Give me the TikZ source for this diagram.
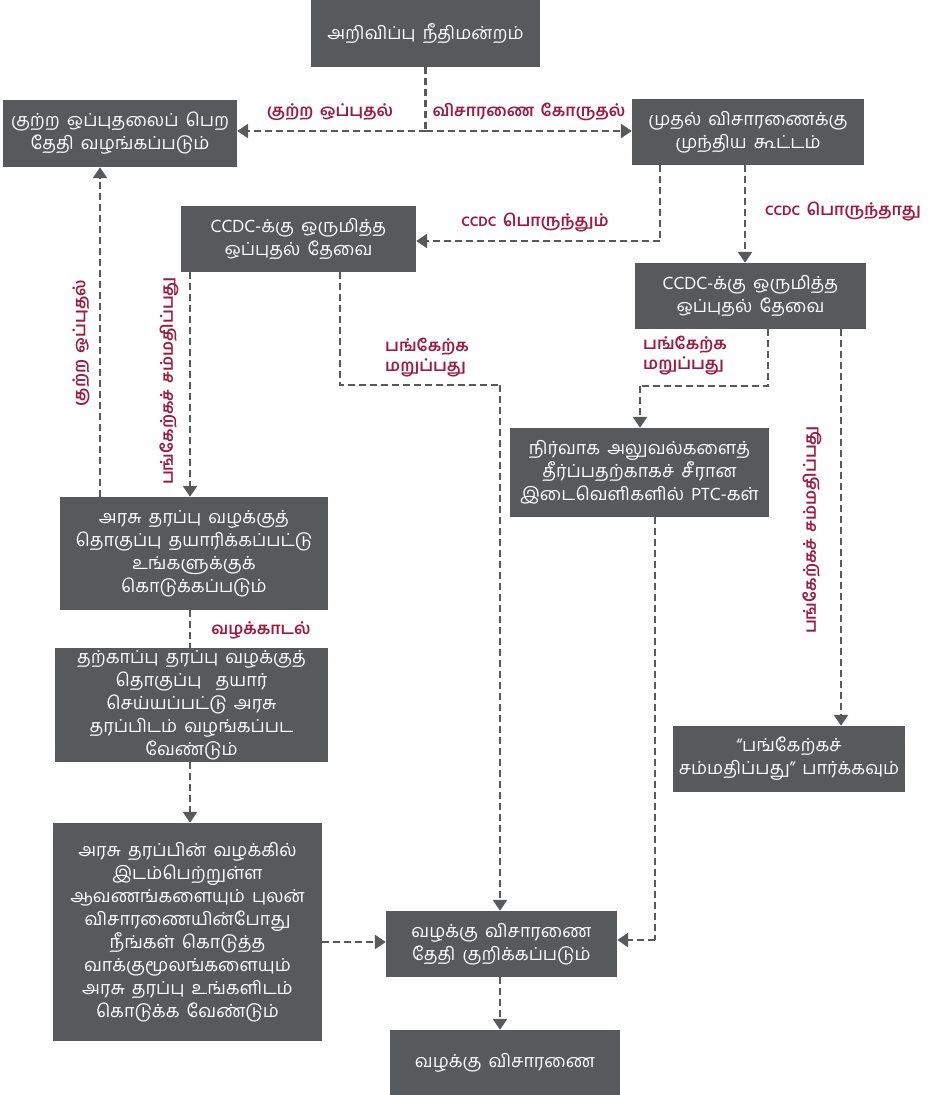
\documentclass[tikz,border=0pt]{standalone}
\usepackage{fontspec}
\usetikzlibrary{arrows.meta,calc}
\newfontfamily\tam[Script=Tamil,WordSpace=1.8]{Hind Madurai}
\newfontfamily\tamlab[Script=Tamil,AutoFakeSlant=0.2,WordSpace=1.6]{Hind Madurai}
\definecolor{boxgray}{HTML}{58595B}
\definecolor{labred}{HTML}{9E1B40}
\tikzset{
  box/.style={rectangle, fill=boxgray, text=white, align=center, inner sep=2pt,
    font=\tam\fontsize{18}{23}\selectfont},
  conn/.style={draw=boxgray, line width=2.3pt, dash pattern=on 7pt off 4pt},
  arr/.style={conn, -{Triangle[width=14pt,length=11pt]}},
  lab/.style={text=labred, font=\tamlab\bfseries\itshape\fontsize{16.5}{20}\selectfont, align=left, inner sep=0pt}
}
\newcommand{\ccdc}{{\fontsize{14}{16}\selectfont CCDC}}
\begin{document}
\begin{tikzpicture}[x=1pt,y=-1pt]
\useasboundingbox (0,0) rectangle (940,1095);
\node[box, minimum width=229pt, minimum height=67pt] (n1) at (425.5,33.5) {அறிவிப்பு நீதிமன்றம்};
\node[box, minimum width=234pt, minimum height=67pt] (n2) at (120,133.5) {குற்ற ஒப்புதலைப் பெற\\தேதி வழங்கப்படும்};
\node[box, minimum width=232pt, minimum height=66pt] (n3) at (748,132) {முதல் விசாரணைக்கு\\முந்திய கூட்டம்};
\node[box, minimum width=235pt, minimum height=66pt] (n4) at (298.5,239) {CCDC-க்கு ஒருமித்த\\ஒப்புதல் தேவை};
\node[box, minimum width=231pt, minimum height=66pt] (n5) at (750.5,296) {CCDC-க்கு ஒருமித்த\\ஒப்புதல் தேவை};
\node[box, minimum width=259pt, minimum height=89pt] (n6) at (639.5,472.5) {நிர்வாக அலுவல்களைத்\\தீர்ப்பதற்காகச் சீரான\\இடைவெளிகளில் PTC-கள்};
\node[box, minimum width=268pt, minimum height=113pt] (n7) at (194,553.5) {அரசு தரப்பு வழக்குத்\\தொகுப்பு தயாரிக்கப்பட்டு\\உங்களுக்குக்\\கொடுக்கப்படும்};
\node[box, minimum width=273pt, minimum height=114pt] (n8) at (191.5,705) {தற்காப்பு தரப்பு வழக்குத்\\தொகுப்பு~~தயார்\\செய்யப்பட்டு அரசு\\தரப்பிடம் வழங்கப்பட\\வேண்டும்};
\node[box, minimum width=232pt, minimum height=66pt] (n9) at (789,759) {“பங்கேற்கச்\\சம்மதிப்பது” பார்க்கவும்};
\node[box, minimum width=269pt, minimum height=218pt] (n10) at (187.5,932) {அரசு தரப்பின் வழக்கில்\\இடம்பெற்றுள்ள\\ஆவணங்களையும் புலன்\\விசாரணையின்போது\\நீங்கள் கொடுத்த\\வாக்குமூலங்களையும்\\அரசு தரப்பு உங்களிடம்\\கொடுக்க வேண்டும்};
\node[box, minimum width=231pt, minimum height=66pt] (n11) at (501.5,944) {வழக்கு விசாரணை\\தேதி குறிக்கப்படும்};
\node[box, minimum width=230pt, minimum height=65pt] (n12) at (505,1062.5) {வழக்கு விசாரணை};

% top split
\coordinate (j1) at (425.5,131);
\draw[conn] (n1.south) -- (j1);
\draw[arr] (j1) -- (j1 -| n2.east);
\draw[arr] (j1) -- (j1 -| n3.west);
\node[lab] (l1) at (330,112) {குற்ற ஒப்புதல்};
\node[lab] (l2) at (529,112) {விசாரணை கோருதல்};

% n3 to n4
\coordinate (j2) at (660,241);
\draw[conn] (660,0 |- n3.south) -- (j2);
\draw[arr] (j2) -- (j2 -| n4.east);
\node[lab] (l3) at (535,223) {\ccdc{} பொருந்தும்};

% n3 to n5
\draw[arr] (745,0 |- n3.south) -- (745,0 |- n5.north);
\node[lab] (l4) at (843,212) {\ccdc{} பொருந்தாது};

% n4 to n11
\coordinate (j3) at (340,385);
\coordinate (j4) at (500,385);
\draw[conn] (340,0 |- n4.south) -- (j3) -- (j4);
\draw[arr] (j4) -- (j4 |- n11.north);
\node[lab, align=left] (l5) at (427,358) {பங்கேற்க\\மறுப்பது};

% n5 to n6
\coordinate (j5) at (768,386);
\coordinate (j6) at (640,386);
\draw[conn] (768,0 |- n5.south) -- (j5) -- (j6);
\draw[arr] (j6) -- (j6 |- n6.north);
\node[lab, align=left] (l6) at (685,356) {பங்கேற்க\\மறுப்பது};

% n5 to n9
\draw[arr] (841,0 |- n5.south) -- (841,0 |- n9.north);
\node[lab, rotate=90] (l7) at (812,530) {பங்கேற்கச் சம்மதிப்பது};

% n6 to n11
\coordinate (j7) at (655,940);
\draw[conn] (655,0 |- n6.south) -- (j7);
\draw[arr] (j7) -- (j7 -| n11.east);

% n4 to n7
\draw[arr] (190,0 |- n4.south) -- (190,0 |- n7.north);
\node[lab, rotate=90] (l8) at (169,381) {பங்கேற்கச் சம்மதிப்பது};

% n7 to n2
\draw[arr] (100,0 |- n7.north) -- (100,0 |- n2.south);
\node[lab, rotate=90] (l9) at (81,343) {குற்ற ஒப்புதல்};

% n7 to n8
\draw[conn] (190,0 |- n7.south) -- (190,0 |- n8.north);
\node[lab] (l10) at (261,630) {வழக்காடல்};

% n8 to n10
\draw[arr] (190,0 |- n8.south) -- (190,0 |- n10.north);

% n10 to n11
\draw[arr] (n10.east |- 0,942) -- (n11.west |- 0,942);

% n11 to n12
\draw[arr] (500,0 |- n11.south) -- (500,0 |- n12.north);
\end{tikzpicture}
\end{document}
